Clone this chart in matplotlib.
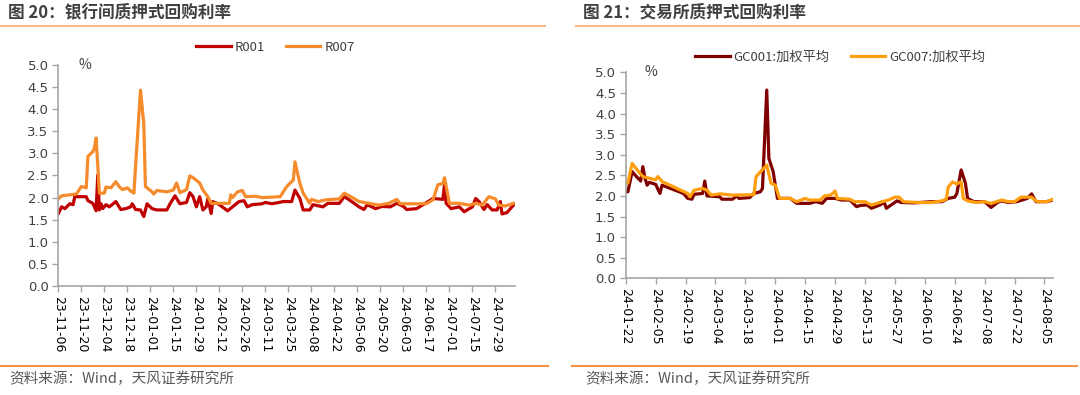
import matplotlib
matplotlib.use("Agg")
import matplotlib.pyplot as plt
import matplotlib.lines as mlines
import pandas as pd

plt.rcParams['font.family'] = ['Noto Sans CJK SC', 'DejaVu Sans']

# 图20 银行间质押式回购利率
r001_dates = ["2023-11-06", "2023-11-08", "2023-11-10", "2023-11-13", "2023-11-15", "2023-11-16",
              "2023-11-23", "2023-11-24", "2023-11-27", "2023-11-29", "2023-11-30", "2023-12-01",
              "2023-12-02", "2023-12-03", "2023-12-05", "2023-12-07", "2023-12-11", "2023-12-14",
              "2023-12-17", "2023-12-20", "2023-12-21", "2023-12-23", "2023-12-26", "2023-12-28",
              "2023-12-30", "2024-01-02", "2024-01-05", "2024-01-11", "2024-01-13", "2024-01-16",
              "2024-01-19", "2024-01-23", "2024-01-25", "2024-01-27", "2024-01-29", "2024-01-31",
              "2024-02-02", "2024-02-04", "2024-02-05", "2024-02-07", "2024-02-08", "2024-02-12",
              "2024-02-17", "2024-02-20", "2024-02-24", "2024-02-27", "2024-02-29", "2024-03-03",
              "2024-03-09", "2024-03-11", "2024-03-15", "2024-03-22", "2024-03-27", "2024-03-29",
              "2024-04-01", "2024-04-03", "2024-04-07", "2024-04-09", "2024-04-15", "2024-04-18",
              "2024-04-25", "2024-04-28", "2024-05-01", "2024-05-07", "2024-05-10", "2024-05-12",
              "2024-05-17", "2024-05-21", "2024-05-26", "2024-05-30", "2024-06-03", "2024-06-05",
              "2024-06-11", "2024-06-15", "2024-06-21", "2024-06-27", "2024-06-28", "2024-06-29",
              "2024-07-02", "2024-07-07", "2024-07-10", "2024-07-15", "2024-07-17", "2024-07-19",
              "2024-07-22", "2024-07-24", "2024-07-27", "2024-07-30", "2024-08-01", "2024-08-02",
              "2024-08-05", "2024-08-09"]
r001_vals = [1.64, 1.79, 1.75, 1.86, 1.84, 2.02,
             2.02, 1.93, 1.87, 1.70, 2.51, 1.72,
             1.86, 1.75, 1.84, 1.79, 1.91, 1.73,
             1.75, 1.79, 1.86, 1.73, 1.72, 1.57,
             1.86, 1.75, 1.72, 1.72, 1.86, 2.04,
             1.86, 1.89, 2.11, 2.02, 1.79, 2.02,
             1.72, 1.79, 1.98, 1.64, 1.91, 1.84,
             1.70, 1.79, 1.91, 1.93, 1.79, 1.84,
             1.86, 1.89, 1.86, 1.91, 1.91, 2.17,
             1.98, 1.72, 1.72, 1.84, 1.79, 1.87,
             1.87, 2.02, 1.95, 1.79, 1.73, 1.84,
             1.75, 1.80, 1.79, 1.87, 1.80, 1.73,
             1.75, 1.84, 1.98, 1.96, 2.29, 1.87,
             1.75, 1.79, 1.68, 1.79, 1.98, 1.91,
             1.73, 1.84, 1.72, 1.72, 1.91, 1.63,
             1.66, 1.83]

r007_dates = ["2023-11-06", "2023-11-08", "2023-11-17", "2023-11-20", "2023-11-23", "2023-11-24",
              "2023-11-27", "2023-11-28", "2023-11-29", "2023-12-01", "2023-12-04", "2023-12-05",
              "2023-12-08", "2023-12-11", "2023-12-13", "2023-12-15", "2023-12-18", "2023-12-20",
              "2023-12-22", "2023-12-23", "2023-12-26", "2023-12-28", "2023-12-29", "2024-01-02",
              "2024-01-03", "2024-01-05", "2024-01-11", "2024-01-15", "2024-01-17", "2024-01-19",
              "2024-01-23", "2024-01-25", "2024-01-27", "2024-01-31", "2024-02-02", "2024-02-05",
              "2024-02-07", "2024-02-18", "2024-02-19", "2024-02-20", "2024-02-23", "2024-02-26",
              "2024-02-28", "2024-03-05", "2024-03-09", "2024-03-20", "2024-03-24", "2024-03-28",
              "2024-03-29", "2024-04-01", "2024-04-03", "2024-04-07", "2024-04-08", "2024-04-12",
              "2024-04-17", "2024-04-25", "2024-04-28", "2024-05-02", "2024-05-07", "2024-05-13",
              "2024-05-19", "2024-05-25", "2024-05-30", "2024-06-01", "2024-06-17", "2024-06-21",
              "2024-06-24", "2024-06-27", "2024-06-28", "2024-07-01", "2024-07-07", "2024-07-13",
              "2024-07-17", "2024-07-21", "2024-07-25", "2024-07-29", "2024-07-31", "2024-08-04",
              "2024-08-09"]
r007_vals = [1.97, 2.04, 2.08, 2.25, 2.22, 2.93,
             3.04, 3.12, 3.35, 2.10, 2.10, 2.24,
             2.22, 2.36, 2.25, 2.18, 2.22, 2.15,
             2.10, 2.70, 4.43, 3.68, 2.25, 2.13,
             2.08, 2.16, 2.13, 2.17, 2.33, 2.11,
             2.18, 2.49, 2.45, 2.33, 2.17, 2.02,
             1.87, 1.87, 2.06, 2.00, 2.13, 2.16,
             2.02, 2.03, 2.00, 2.02, 2.25, 2.40,
             2.81, 2.32, 2.10, 1.87, 1.96, 1.91,
             1.95, 1.97, 2.10, 2.02, 1.91, 1.87,
             1.83, 1.87, 1.96, 1.86, 1.86, 1.95,
             2.29, 2.32, 2.45, 1.87, 1.87, 1.83,
             1.87, 1.83, 2.02, 1.97, 1.83, 1.81,
             1.87]

# 图21 交易所质押式回购利率
gc001_dates = ["2024-01-22", "2024-01-23", "2024-01-25", "2024-01-27", "2024-01-29", "2024-01-30",
               "2024-01-31", "2024-02-01", "2024-02-02", "2024-02-05", "2024-02-07", "2024-02-08",
               "2024-02-18", "2024-02-20", "2024-02-22", "2024-02-23", "2024-02-27", "2024-02-28",
               "2024-02-29", "2024-03-06", "2024-03-07", "2024-03-12", "2024-03-14", "2024-03-15",
               "2024-03-20", "2024-03-22", "2024-03-25", "2024-03-26", "2024-03-28", "2024-03-29",
               "2024-03-31", "2024-04-02", "2024-04-08", "2024-04-11", "2024-04-17", "2024-04-20",
               "2024-04-23", "2024-04-25", "2024-04-29", "2024-05-02", "2024-05-06", "2024-05-09",
               "2024-05-11", "2024-05-14", "2024-05-16", "2024-05-20", "2024-05-22", "2024-05-23",
               "2024-05-28", "2024-05-30", "2024-06-05", "2024-06-13", "2024-06-18", "2024-06-21",
               "2024-06-24", "2024-06-25", "2024-06-27", "2024-06-29", "2024-06-30", "2024-07-03",
               "2024-07-08", "2024-07-11", "2024-07-14", "2024-07-16", "2024-07-19", "2024-07-23",
               "2024-07-28", "2024-07-30", "2024-08-01", "2024-08-06", "2024-08-09"]
gc001_vals = [2.10, 2.10, 2.59, 2.47, 2.36, 2.71,
              2.43, 2.26, 2.33, 2.28, 2.06, 2.26,
              2.06, 1.94, 1.92, 2.04, 2.06, 2.36,
              2.00, 1.98, 1.92, 1.92, 2.00, 1.94,
              1.96, 2.06, 2.10, 2.18, 4.57, 2.91,
              2.59, 1.94, 1.94, 1.82, 1.82, 1.86,
              1.82, 1.94, 1.94, 1.90, 1.90, 1.74,
              1.77, 1.78, 1.70, 1.78, 1.84, 1.70,
              1.88, 1.84, 1.83, 1.86, 1.86, 1.94,
              1.97, 2.06, 2.63, 2.31, 1.94, 1.86,
              1.86, 1.72, 1.84, 1.88, 1.84, 1.86,
              1.94, 2.05, 1.86, 1.86, 1.90]

gc007_dates = ["2024-01-22", "2024-01-23", "2024-01-25", "2024-01-28", "2024-01-30", "2024-02-02",
               "2024-02-05", "2024-02-06", "2024-02-08", "2024-02-20", "2024-02-21", "2024-02-23",
               "2024-02-27", "2024-02-29", "2024-03-02", "2024-03-06", "2024-03-12", "2024-03-22",
               "2024-03-23", "2024-03-28", "2024-03-30", "2024-04-01", "2024-04-03", "2024-04-08",
               "2024-04-11", "2024-04-15", "2024-04-17", "2024-04-22", "2024-04-24", "2024-04-27",
               "2024-04-29", "2024-04-30", "2024-05-06", "2024-05-08", "2024-05-13", "2024-05-16",
               "2024-05-21", "2024-05-24", "2024-05-27", "2024-05-29", "2024-05-31", "2024-06-07",
               "2024-06-13", "2024-06-18", "2024-06-20", "2024-06-21", "2024-06-23", "2024-06-25",
               "2024-06-26", "2024-06-27", "2024-06-28", "2024-06-30", "2024-07-04", "2024-07-08",
               "2024-07-11", "2024-07-16", "2024-07-19", "2024-07-22", "2024-07-25", "2024-07-30",
               "2024-08-01", "2024-08-02", "2024-08-06", "2024-08-09"]
gc007_vals = [2.31, 2.31, 2.79, 2.59, 2.47, 2.43,
              2.39, 2.47, 2.35, 2.06, 1.98, 2.14,
              2.18, 2.14, 2.02, 2.05, 2.02, 2.03,
              2.47, 2.75, 2.31, 2.26, 1.94, 1.94,
              1.86, 1.94, 1.90, 1.90, 2.00, 2.02,
              2.12, 1.94, 1.92, 1.86, 1.86, 1.78,
              1.86, 1.90, 1.97, 1.97, 1.86, 1.84,
              1.84, 1.88, 1.92, 2.22, 2.34, 2.29,
              2.32, 2.34, 1.94, 1.88, 1.84, 1.86,
              1.82, 1.90, 1.86, 1.86, 1.97, 1.97,
              1.88, 1.86, 1.86, 1.92]

left_start, left_end = "2023-11-06", "2024-08-10"
right_start, right_end = "2024-01-22", "2024-08-09"

TXT = '#404040'
AX = '#A6A6A6'

fig = plt.figure(figsize=(10.8, 3.95), dpi=100)


def style_axes(ax, start, end, nticks):
    ticks = pd.date_range(start, periods=nticks, freq='14D')
    ax.set_xlim(pd.Timestamp(start), pd.Timestamp(end))
    ax.set_ylim(0, 5)
    ax.set_xticks(ticks)
    ax.set_xticklabels([t.strftime('%y-%m-%d') for t in ticks], rotation=270,
                       fontsize=9, color='#000000', family=['DejaVu Sans'])
    ax.set_yticks([i * 0.5 for i in range(11)])
    ax.set_yticklabels(['%.1f' % (i * 0.5) for i in range(11)], fontsize=9.5, color=TXT,
                       family=['DejaVu Sans'])
    for s in ['top', 'right']:
        ax.spines[s].set_visible(False)
    for s in ['left', 'bottom']:
        ax.spines[s].set_color(AX)
        ax.spines[s].set_linewidth(1.2)
    ax.tick_params(axis='both', direction='out', length=4, color=AX, width=1, pad=3)
    ax.text(0.045, 1.0, '%', transform=ax.transAxes, fontsize=10, color=TXT,
            ha='left', va='center')


ax1 = fig.add_axes([0.054, 0.276, 0.423, 0.5595])
ax1.plot(pd.to_datetime(r001_dates), r001_vals, color='#C00000', lw=2.3, label='R001')
ax1.plot(pd.to_datetime(r007_dates), r007_vals, color='#F68B2C', lw=2.3, label='R007')
style_axes(ax1, left_start, left_end, 20)
ax1.legend(loc='center', bbox_to_anchor=(0.255, 0.881), bbox_transform=fig.transFigure,
           ncol=2, frameon=False, fontsize=9.5, handlelength=2.6, columnspacing=1.6,
           handletextpad=0.3, labelcolor=TXT)

ax2 = fig.add_axes([0.5794, 0.2954, 0.3956, 0.5215])
ax2.plot(pd.to_datetime(gc001_dates), gc001_vals, color='#800000', lw=2.3, label='GC001:加权平均')
ax2.plot(pd.to_datetime(gc007_dates), gc007_vals, color='#FF9F10', lw=2.3, label='GC007:加权平均')
style_axes(ax2, right_start, right_end, 15)
ax2.legend(loc='center', bbox_to_anchor=(0.778, 0.856), bbox_transform=fig.transFigure,
           ncol=2, frameon=False, fontsize=9.5, handlelength=2.6, columnspacing=1.6,
           handletextpad=0.3, labelcolor=TXT)

# titles, rules and source notes
fig.text(0.007, 0.968, '图 20：银行间质押式回购利率', fontsize=12, fontweight='bold',
         color='#404040', ha='left', va='center')
fig.text(0.54, 0.968, '图 21：交易所质押式回购利率', fontsize=12, fontweight='bold',
         color='#404040', ha='left', va='center')
fig.lines.append(mlines.Line2D([0.0, 0.505], [0.935, 0.935], transform=fig.transFigure,
                               color='#F6B98A', lw=1.5))
fig.lines.append(mlines.Line2D([0.533, 1.0], [0.935, 0.935], transform=fig.transFigure,
                               color='#F6B98A', lw=1.5))
fig.lines.append(mlines.Line2D([0.0, 0.507], [0.074, 0.074], transform=fig.transFigure,
                               color='#F39549', lw=1.5))
fig.lines.append(mlines.Line2D([0.53, 0.997], [0.074, 0.074], transform=fig.transFigure,
                               color='#F39549', lw=1.5))
fig.text(0.009, 0.04, '资料来源：Wind，天风证券研究所', fontsize=10.5, color='#595959',
         ha='left', va='center')
fig.text(0.542, 0.04, '资料来源：Wind，天风证券研究所', fontsize=10.5, color='#595959',
         ha='left', va='center')

fig.savefig('out.png', dpi=100)
